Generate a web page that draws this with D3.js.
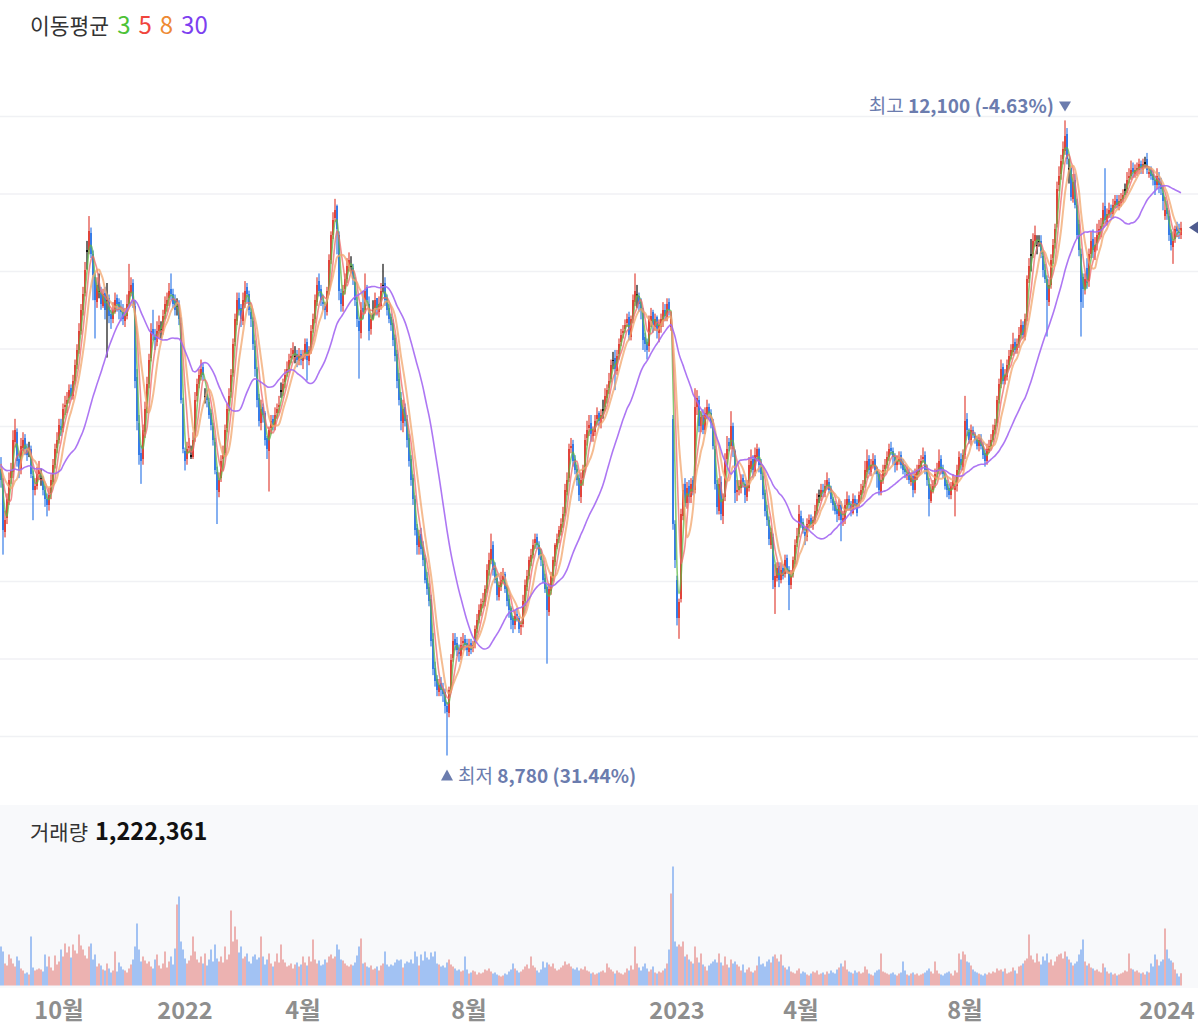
<!DOCTYPE html>
<html>
<head>
<meta charset="utf-8">
<script src="https://cdn.jsdelivr.net/npm/d3@7"></script>
<style>
  body { margin: 0; background: #fff; }
  svg { display: block; }
  text { font-family: "Noto Sans CJK KR", "Noto Sans", sans-serif; }
</style>
</head>
<body>
<svg id="chart" width="1198" height="1034"></svg>
<script>
// trading calendar (KRX)
const firstDay = "2021-08-18"
const lastDay = "2024-01-11"
const holidays = [
  "2021-09-20","2021-09-21","2021-09-22","2021-10-04","2021-10-11","2021-12-31",
  "2022-01-31","2022-02-01","2022-02-02","2022-03-01","2022-03-09","2022-05-05","2022-06-01",
  "2022-06-06","2022-08-15","2022-09-09","2022-09-12","2022-10-03","2022-10-10","2022-12-30",
  "2023-01-23","2023-01-24","2023-03-01","2023-05-01","2023-05-05","2023-05-29","2023-06-06",
  "2023-08-15","2023-09-28","2023-09-29","2023-10-02","2023-10-03","2023-10-09","2023-12-25",
  "2023-12-29","2024-01-01"
]
const tickDays = ["2021-10-01","2022-01-03","2022-04-01","2022-08-01","2023-01-02","2023-04-03","2023-08-01","2024-01-02"]

const maPeriods = [3, 5, 8, 30]
const maLegendColors = ["#4dc236", "#f0453d", "#ee8a33", "#7d3ff0"]
const maLineColors = ["#5fb845", "#ef6a6a", "#f2a66c", "#a468f2"]

// closes before the visible window, only used to warm up the averages
const priorCloses = [10350,10300,10250,10200,10260,10310,10380,10420,10360,10300,10240,10190,10230,10290,10350,
  10400,10330,10270,10220,10260,10310,10340,10290,10240,10280,10330,10360,10320,10290]

const opens = [
10280,10200,9950,10020,10110,10230,10260,10420,10470,10330,
10280,10390,10440,10390,10380,10380,10240,10170,10190,10250,
10230,10220,10170,10120,10090,10150,10210,10300,10390,10430,
10500,10490,10600,10620,10650,10700,10660,10740,10820,10900,
11000,11110,11200,11420,11420,11510,11400,11280,11150,11210,
11200,11130,11200,11160,11170,11090,11060,11100,11170,11150,
11120,11110,11050,11080,11140,11200,11250,11130,10760,10520,
10360,10330,10470,10590,10720,10860,11010,10970,10940,11000,
11010,11000,11090,11130,11170,11220,11190,11160,11130,11140,
11040,10620,10370,10330,10390,10350,10340,10440,10660,10720,
10760,10810,10660,10670,10630,10570,10500,10420,10260,10160,
10230,10330,10360,10490,10600,10680,10780,10940,11050,11170,
11120,11050,11150,11230,11190,11100,11050,10920,10800,10650,
10520,10600,10570,10440,10370,10490,10540,10500,10570,10600,
10690,10680,10730,10780,10800,10860,10880,10870,10880,10840,
10880,10840,10870,10940,10840,10900,11010,11060,11150,11260,
11220,11150,11130,11100,11210,11370,11500,11590,11650,11500,
11200,11130,11220,11270,11330,11340,11330,11260,11150,11050,
10990,11120,11110,11230,11140,11010,11110,11120,11170,11100,
11130,11240,11250,11170,11120,11070,11040,10960,10880,10750,
10650,10520,10600,10540,10440,10330,10230,10120,9970,9870,
9940,9870,9810,9710,9660,9600,9390,9240,9180,9110,
9160,9130,9110,9040,9000,9120,9290,9390,9370,9320,
9300,9370,9390,9370,9320,9370,9340,9370,9440,9490,
9530,9580,9580,9650,9750,9800,9880,9760,9710,9610,
9660,9700,9730,9660,9600,9550,9500,9460,9520,9500,
9450,9470,9590,9660,9720,9790,9830,9890,9920,9880,
9840,9780,9710,9660,9530,9640,9710,9790,9870,9920,
9950,10000,10050,10160,10230,10390,10410,10330,10280,10230,
10130,10230,10280,10440,10490,10520,10450,10470,10540,10570,
10520,10590,10600,10650,10700,10750,10850,10860,10790,10880,
10940,10990,11010,11040,11070,10970,11060,11150,11190,11180,
11150,11100,10970,10940,10920,11050,11100,11020,11070,10990,
11020,11050,11110,11070,11150,11020,10540,9990,9700,9500,
9600,10030,10200,10100,10190,10130,10220,10170,10600,10640,
10500,10560,10480,10560,10600,10570,10520,10380,10200,10060,
10210,10030,10130,10330,10420,10400,10500,10370,10160,10170,
10180,10230,10200,10130,10180,10280,10330,10260,10340,10380,
10310,10240,10150,10060,10010,9880,9920,9660,9710,9770,
9700,9760,9730,9810,9750,9670,9730,9800,9890,9940,
10030,10000,9950,9920,9990,10020,9980,10010,10060,10140,
10130,10170,10150,10190,10210,10170,10120,10100,10070,10030,
10090,10000,10010,10090,10120,10090,10050,10120,10100,10100,
10140,10170,10200,10260,10330,10260,10300,10330,10270,10250,
10160,10220,10280,10300,10340,10390,10370,10340,10300,10320,
10350,10310,10280,10240,10260,10210,10240,10170,10240,10260,
10290,10330,10350,10280,10200,10110,10170,10200,10260,10270,
10330,10280,10240,10200,10180,10140,10190,10170,10190,10270,
10330,10290,10350,10540,10470,10430,10480,10450,10430,10400,
10440,10400,10360,10320,10370,10400,10430,10480,10520,10640,
10720,10810,10740,10760,10820,10870,10890,10940,10900,10930,
10980,11030,10970,11070,11270,11400,11400,11470,11450,11470,
11470,11390,11320,11270,11150,11240,11380,11460,11560,11760,
11820,11900,11940,12030,11850,11850,11690,11790,11660,11560,
11400,11280,11220,11330,11260,11400,11480,11410,11460,11500,
11520,11560,11650,11570,11610,11640,11610,11660,11690,11650,
11670,11690,11740,11740,11800,11810,11850,11820,11840,11840,
11870,11840,11880,11900,11820,11840,11820,11790,11760,11800,
11770,11720,11600,11640,11600,11510,11440,11480,11550,11540,
11500]

const highs = [
10340,10230,10060,10150,10260,10310,10480,10540,10490,10360,
10440,10470,10460,10410,10420,10400,10270,10230,10290,10320,
10280,10240,10190,10150,10180,10250,10330,10410,10470,10540,
10540,10620,10660,10680,10720,10720,10770,10850,10930,11040,
11140,11230,11360,11470,11600,11540,11420,11300,11280,11300,
11230,11220,11230,11250,11190,11110,11150,11200,11190,11170,
11160,11140,11120,11190,11350,11280,11270,11160,10800,10560,
10400,10510,10630,10760,10880,11040,11110,11010,11050,11080,
11050,11110,11180,11200,11250,11300,11220,11190,11170,11160,
11070,10650,10390,10420,10440,10400,10470,10680,10750,10800,
10850,10830,10700,10690,10650,10590,10520,10440,10290,10260,
10350,10400,10510,10620,10700,10800,10960,11090,11200,11200,
11140,11200,11260,11250,11210,11120,11070,10950,10810,10670,
10640,10620,10580,10450,10500,10560,10560,10600,10620,10660,
10730,10750,10800,10840,10880,10910,10940,10920,10900,10910,
10900,10900,10960,10960,10920,11030,11090,11190,11280,11300,
11240,11190,11150,11230,11400,11520,11620,11690,11660,11520,
11220,11240,11300,11380,11410,11390,11350,11280,11180,11070,
11150,11210,11300,11240,11180,11090,11160,11200,11170,11180,
11250,11350,11280,11190,11140,11090,11060,10980,10900,10780,
10680,10640,10620,10560,10460,10350,10250,10140,9990,9960,
9970,9900,9830,9740,9680,9620,9420,9270,9200,9180,
9190,9160,9130,9060,9140,9310,9420,9420,9400,9360,
9400,9420,9410,9390,9390,9390,9380,9460,9520,9570,
9600,9630,9670,9780,9840,9940,9900,9790,9730,9690,
9740,9760,9740,9670,9620,9560,9510,9540,9550,9510,
9480,9620,9700,9750,9820,9860,9910,9940,9940,9900,
9860,9800,9730,9670,9680,9740,9820,9890,9940,9980,
10020,10080,10200,10260,10410,10440,10430,10350,10300,10250,
10260,10300,10460,10530,10560,10560,10500,10560,10600,10580,
10590,10640,10700,10720,10780,10850,10890,10900,10900,10960,
11010,11030,11060,11090,11100,11080,11190,11300,11240,11200,
11170,11120,10990,10960,11080,11120,11110,11090,11080,11060,
11090,11150,11140,11170,11170,11100,10560,10010,9720,9600,
10070,10200,10230,10210,10220,10230,10240,10700,10690,10660,
10580,10590,10600,10640,10620,10590,10540,10400,10220,10230,
10240,10150,10360,10450,10440,10580,10520,10380,10220,10220,
10250,10250,10220,10220,10340,10380,10350,10390,10410,10390,
10330,10260,10170,10090,10030,9970,9940,9780,9790,9790,
9790,9780,9830,9830,9770,9750,9820,9910,9970,10090,
10060,10020,9970,10020,10040,10040,10030,10090,10150,10170,
10200,10200,10220,10260,10230,10190,10130,10110,10090,10120,
10110,10060,10120,10160,10140,10110,10150,10140,10120,10160,
10200,10220,10320,10380,10350,10330,10360,10350,10290,10260,
10250,10300,10330,10370,10410,10420,10390,10360,10350,10370,
10370,10330,10300,10290,10280,10260,10270,10280,10300,10330,
10350,10390,10370,10300,10230,10200,10220,10280,10310,10380,
10350,10300,10260,10220,10200,10210,10250,10240,10300,10370,
10360,10380,10660,10570,10490,10510,10500,10470,10450,10460,
10460,10420,10380,10410,10430,10460,10510,10540,10660,10750,
10850,10830,10800,10850,10900,10930,10990,10960,10960,11020,
11060,11050,11090,11290,11380,11480,11510,11550,11500,11500,
11500,11420,11350,11290,11270,11400,11480,11560,11780,11860,
11920,11990,12100,12060,11900,11860,11820,11820,11690,11580,
11430,11300,11300,11380,11430,11520,11530,11490,11560,11580,
11590,11670,11850,11640,11670,11660,11690,11710,11710,11710,
11720,11740,11770,11830,11850,11890,11880,11870,11880,11900,
11890,11900,11910,11930,11860,11860,11840,11810,11850,11830,
11800,11760,11700,11680,11630,11530,11520,11550,11570,11560,
11570]

const lows = [
10180,9830,9920,9990,10090,10200,10230,10390,10290,10230,
10250,10370,10350,10320,10340,10230,10010,10140,10170,10220,
10190,10140,10080,10030,10060,10120,10190,10280,10360,10410,
10450,10470,10560,10570,10620,10640,10640,10720,10800,10880,
10980,11080,11180,11320,11400,11380,11160,10960,11120,11170,
11110,11120,11060,10860,11040,11010,11040,11090,11100,11060,
11050,11030,11020,11060,11120,11180,11120,10700,10480,10300,
10200,10300,10440,10570,10700,10840,10950,10900,10920,10960,
10960,10980,11060,11100,11130,11160,11120,11080,11080,11030,
10620,10360,10270,10300,10360,10330,10330,10420,10630,10700,
10740,10740,10620,10600,10540,10480,10400,10250,9990,10130,
10210,10270,10340,10470,10580,10650,10760,10920,11030,11080,
11020,11030,11120,11150,11080,11020,10900,10760,10600,10500,
10480,10520,10400,10330,10160,10460,10480,10480,10540,10570,
10650,10660,10700,10760,10780,10830,10850,10830,10810,10820,
10820,10800,10850,10740,10820,10880,10990,11040,11130,11180,
11130,11110,11060,11080,11190,11350,11480,11570,11400,11160,
11100,11100,11190,11250,11310,11300,11240,11130,11020,10750,
10960,11060,11090,11130,10950,10980,11060,11080,11080,11070,
11110,11200,11130,11080,11040,11000,10920,10840,10700,10610,
10480,10470,10500,10390,10290,10190,10090,9930,9830,9830,
9830,9770,9680,9620,9560,9350,9200,9140,9090,9090,
9090,9060,9000,8780,8980,9110,9270,9330,9300,9270,
9280,9330,9330,9300,9300,9310,9320,9340,9420,9470,
9510,9550,9560,9630,9720,9780,9720,9680,9590,9590,
9640,9680,9630,9560,9500,9440,9420,9440,9480,9420,
9410,9450,9560,9640,9700,9770,9810,9860,9860,9810,
9770,9680,9630,9260,9510,9620,9690,9770,9860,9890,
9930,9970,10030,10140,10210,10360,10290,10250,10190,10110,
10100,10190,10260,10400,10450,10420,10420,10450,10510,10500,
10490,10540,10580,10620,10670,10730,10800,10690,10770,10850,
10920,10960,10990,11020,10950,10950,11040,11130,11120,11100,
11060,10900,10890,10850,10890,11020,10990,11000,10960,10940,
10990,11020,11050,11050,11080,11000,9960,9760,9460,9390,
9580,10010,10080,10070,10100,10100,10140,10150,10560,10470,
10470,10460,10460,10540,10540,10490,10380,10170,10040,10040,
10010,9990,10110,10300,10370,10380,10340,10100,10110,10140,
10150,10180,10100,10110,10160,10260,10230,10240,10320,10260,
10220,10120,10030,9980,9880,9860,9650,9520,9690,9660,
9680,9700,9710,9730,9540,9650,9710,9780,9870,9920,
9970,9940,9880,9900,9970,9970,9960,9990,10040,10100,
10110,10130,10130,10170,10150,10100,10060,10040,10000,10010,
9900,9980,9990,10060,10060,10030,10040,10070,10030,10080,
10120,10150,10180,10230,10250,10240,10280,10250,10180,10140,
10140,10200,10250,10280,10320,10350,10300,10260,10270,10300,
10280,10250,10230,10220,10200,10190,10130,10150,10220,10240,
10270,10310,10250,10190,10030,10100,10150,10180,10230,10250,
10250,10230,10170,10130,10120,10120,10170,10030,10160,10250,
10270,10270,10330,10450,10410,10400,10440,10410,10380,10370,
10380,10330,10290,10300,10360,10380,10420,10460,10500,10620,
10700,10720,10720,10740,10800,10850,10870,10880,10880,10910,
10960,10960,10950,11050,11250,11310,11380,11440,11400,11440,
11380,11280,11250,10970,11130,11220,11350,11430,11540,11730,
11790,11870,11920,11870,11770,11680,11670,11640,11480,11390,
10970,11120,11190,11220,11230,11380,11380,11370,11420,11480,
11490,11540,11560,11550,11590,11590,11590,11640,11640,11630,
11650,11670,11710,11720,11770,11790,11800,11800,11810,11820,
11820,11820,11850,11820,11800,11790,11760,11710,11740,11720,
11710,11630,11580,11580,11470,11420,11350,11460,11490,11480,
11480]

const closes = [
10220,9960,10010,10120,10220,10270,10430,10480,10320,10270,
10400,10430,10380,10350,10380,10250,10170,10190,10250,10270,
10230,10170,10120,10090,10140,10220,10300,10380,10430,10510,
10480,10590,10610,10640,10690,10660,10740,10820,10900,11000,
11110,11190,11320,11420,11520,11400,11290,11160,11240,11210,
11140,11190,11110,11160,11080,11060,11110,11160,11140,11110,
11100,11060,11080,11140,11210,11240,11160,10740,10530,10350,
10320,10480,10590,10720,10850,11000,10980,10950,11000,11030,
11010,11080,11140,11160,11210,11190,11140,11110,11130,11060,
10640,10380,10320,10380,10400,10350,10430,10640,10720,10770,
10800,10770,10660,10640,10560,10510,10430,10270,10170,10220,
10320,10350,10480,10590,10660,10770,10930,11060,11160,11110,
11060,11160,11210,11190,11110,11060,10930,10800,10640,10530,
10590,10560,10430,10380,10480,10530,10510,10560,10590,10610,
10690,10720,10770,10800,10850,10870,10900,10870,10850,10870,
10850,10870,10930,10850,10900,11000,11060,11160,11240,11210,
11160,11140,11110,11210,11370,11500,11580,11630,11530,11210,
11140,11210,11270,11340,11370,11340,11270,11160,11060,11000,
11110,11100,11210,11160,11000,11060,11110,11160,11110,11140,
11210,11240,11160,11110,11060,11030,10950,10870,10740,10640,
10530,10590,10530,10430,10320,10220,10120,9960,9880,9930,
9860,9800,9700,9650,9590,9380,9230,9170,9120,9150,
9120,9100,9040,9010,9120,9280,9380,9360,9330,9310,
9360,9380,9360,9330,9360,9330,9360,9440,9490,9540,
9570,9590,9650,9750,9800,9860,9750,9700,9620,9670,
9700,9720,9650,9590,9540,9490,9460,9510,9510,9440,
9460,9590,9670,9720,9800,9830,9880,9910,9880,9830,
9800,9700,9650,9540,9650,9720,9800,9880,9910,9960,
9990,10040,10170,10220,10380,10400,10320,10270,10220,10140,
10220,10270,10430,10480,10510,10460,10480,10530,10560,10530,
10560,10590,10660,10690,10740,10820,10850,10800,10870,10930,
10980,11000,11030,11060,10980,11060,11160,11210,11190,11140,
11110,10950,10930,10900,11060,11080,11030,11060,11000,11030,
11060,11110,11080,11140,11110,11060,9990,9800,9500,9580,
10040,10170,10100,10180,10130,10200,10160,10600,10650,10500,
10550,10480,10570,10600,10560,10520,10400,10200,10080,10200,
10040,10120,10320,10380,10400,10500,10380,10150,10170,10190,
10220,10210,10140,10190,10300,10320,10270,10350,10380,10300,
10250,10140,10060,10010,9910,9950,9700,9720,9760,9700,
9750,9720,9800,9750,9670,9720,9800,9880,9930,10040,
9990,9960,9930,9990,10010,9990,10010,10060,10120,10140,
10170,10160,10190,10220,10170,10120,10090,10060,10040,10090,
10010,10020,10090,10120,10090,10060,10120,10090,10050,10140,
10170,10190,10270,10320,10270,10300,10320,10270,10250,10170,
10220,10270,10300,10340,10380,10370,10340,10300,10320,10340,
10300,10270,10260,10250,10220,10230,10170,10250,10270,10300,
10320,10340,10270,10220,10120,10170,10190,10250,10270,10320,
10270,10250,10190,10170,10140,10190,10220,10190,10270,10340,
10300,10350,10530,10480,10430,10480,10460,10430,10400,10430,
10400,10350,10320,10380,10400,10430,10480,10510,10640,10720,
10800,10740,10770,10820,10870,10900,10930,10900,10930,10980,
11030,10980,11060,11270,11340,11400,11470,11500,11450,11470,
11400,11320,11270,11160,11240,11370,11450,11530,11740,11810,
11890,11950,12020,11900,11850,11700,11780,11660,11500,11420,
11150,11220,11270,11250,11400,11470,11420,11450,11500,11530,
11550,11630,11580,11610,11630,11620,11660,11680,11660,11680,
11690,11710,11740,11790,11810,11840,11830,11840,11850,11870,
11850,11870,11880,11840,11830,11810,11790,11760,11810,11760,
11740,11680,11630,11610,11500,11450,11470,11530,11520,11510,
11540]

// daily volume, thousand shares
const volumesK = [
3900,3400,2200,2000,3100,2700,2200,1900,2900,2500,
1700,1500,1200,1300,1100,4900,1800,1500,1600,1700,
1600,1400,3100,1900,2900,1800,1500,3000,2100,2400,
3600,2900,4200,3300,3900,2800,4100,3500,3200,5100,
4000,3600,3000,2700,3900,4200,2600,3100,1900,2200,
2000,1600,1500,2200,1700,1300,1500,3400,1400,2300,
1900,1600,1500,1300,1700,2100,2600,3900,6200,3600,
2400,2900,2500,2200,2400,1900,1700,2600,3100,2000,
1700,2200,3400,1800,2400,2900,2100,3700,8100,8900,
4400,3600,2700,2200,2500,3000,4900,3400,2600,2300,
2900,2200,3200,2000,2600,3600,2400,4100,2700,2400,
2900,2300,3900,2600,3100,7500,4400,5900,4600,3300,
3900,2700,2900,3200,2400,2200,2900,3100,2600,2800,
4900,2900,2100,2600,3200,2200,1900,2400,3200,2300,
4100,2600,2300,1900,2000,2200,1700,2100,2300,1900,
2100,2900,2300,2000,2900,2400,4600,2600,2200,2500,
2000,2100,2600,2300,2900,3100,2700,2900,4100,3600,
2600,2500,2200,2000,1900,2100,2000,2300,3000,3900,
4700,2200,2300,1900,1800,2000,1600,1700,1900,1500,
2000,2200,3400,2100,1900,2100,2000,2300,2600,2500,
2600,1800,2200,2400,2300,2600,2200,3400,2900,2000,
3100,2500,3400,2800,2600,3300,2900,3400,2200,2100,
1900,2000,1800,2300,2600,2100,1900,1700,1500,1600,
1400,1500,2900,1600,1200,1300,1500,1400,1100,1300,
1200,1300,1600,1500,1700,1400,1200,1300,1100,1000,
900,1000,1200,1100,1400,1600,2200,1700,1500,1300,
1400,1600,1900,2100,1700,2900,2000,1800,1500,1300,
1600,2400,1800,2300,2100,1900,2200,1700,1500,1600,
1800,2000,2400,2100,2200,1900,1700,1600,1800,1500,
1700,1600,1900,1500,1400,1200,1300,1100,1200,1300,
1400,1500,1300,2200,1800,1600,1400,1200,1500,1300,
1200,1100,1300,1700,1500,2000,1600,3900,2200,1800,
1500,1900,2200,1700,1400,1600,1900,1300,1200,1400,
1300,1500,1700,2200,3600,9200,11900,4400,3900,4100,
3900,4400,2900,3100,2600,2400,2200,3900,2800,2300,
3200,2100,1900,1500,2000,2200,2400,2600,2300,3200,
2300,2000,2900,2100,1800,2600,2200,2400,2100,1900,
1500,2100,1300,1600,1800,1400,1300,1500,2000,2900,
2100,2200,1900,2400,2600,2300,2900,3100,2700,2400,
3100,2000,1800,1600,1900,1400,1300,1200,1500,1700,
1200,1400,1300,1100,1000,1200,1400,1300,1500,1100,
1200,1300,1100,1400,1200,1500,1300,1200,1600,1800,
2200,1900,2500,1600,1400,1300,1200,1500,1300,1400,
1200,1300,1900,1600,1200,1100,1000,1300,1500,1600,
3200,1400,1300,1200,1100,1200,1300,1100,1000,1200,
1300,2400,1500,1100,1000,1200,1300,1100,1200,1000,
1100,1200,1300,1500,1700,1400,1200,2400,1500,1200,
1100,1000,1200,1300,1400,1200,1000,1500,1300,3200,
2600,3400,3100,2400,2300,2000,1600,1400,1300,1200,
1100,1000,1200,1100,1300,1200,1400,1300,1700,1500,
1600,1400,1700,1200,1300,1400,1800,1500,1200,1900,
2000,2200,2500,2700,5100,3000,2600,2300,3200,2400,
2100,2900,2500,3200,2300,2600,2000,2400,2900,3100,
3200,2700,3400,2900,2600,2300,2000,2200,2400,3100,
3600,4600,2400,2000,2200,1800,1700,1500,1600,1400,
1300,2200,1800,1400,1200,1300,1100,1200,1000,1100,
1200,1300,1500,1400,3200,1700,1600,1400,1500,1300,
1200,1300,1100,1400,1300,2200,1900,3100,2600,2000,
2400,2600,5700,3600,2700,2500,2300,1600,1200,900,
1222.361]

const svg = d3.select("#chart")

const parseDay = d3.utcParse("%Y-%m-%d")
const fmtDay = d3.utcFormat("%Y-%m-%d")
const closed = new Set(holidays)
const tradingDays = d3.utcDays(parseDay(firstDay), d3.utcDay.offset(parseDay(lastDay), 1))
  .filter(d => d.getUTCDay() !== 0 && d.getUTCDay() !== 6 && !closed.has(fmtDay(d)))
  .map(fmtDay)

const n = closes.length
const candles = closes.map((c, i) => ({ i, o: opens[i], h: highs[i], l: lows[i], c, v: volumesK[i] }))

const x = d3.scaleBand().domain(d3.range(n)).range([0, 1182])
const bw = x.bandwidth()
const cx = i => x(i) + bw / 2

const maxHigh = d3.max(highs), minLow = d3.min(lows)
const y = d3.scaleLinear().domain([minLow, maxHigh]).range([755.5, 120.4])
const yv = d3.scaleLinear().domain([0, d3.max(volumesK)]).range([985.5, 866.5])

const upColor = "#e1443b", downColor = "#367ce8", flatColor = "#111"
const colorOf = d => d.c > d.o ? upColor : d.c < d.o ? downColor : flatColor

// price grid: ten equal bands of the price panel
const grid = d3.scaleLinear().domain([0, 10]).range([39, 814])
svg.append("g").selectAll("line").data(d3.range(1, 10)).join("line")
  .attr("x1", 0).attr("x2", 1198)
  .attr("y1", d => grid(d)).attr("y2", d => grid(d))
  .attr("stroke", "#f0f1f4").attr("stroke-width", 1.5)

svg.append("defs").append("clipPath").attr("id", "plot")
  .append("rect").attr("x", 0).attr("y", 40).attr("width", 1184).attr("height", 760)

const price = svg.append("g").attr("clip-path", "url(#plot)")

price.append("g").selectAll("rect").data(candles).join("rect")
  .attr("x", d => cx(d.i) - 0.6)
  .attr("width", 1.2)
  .attr("y", d => y(d.h))
  .attr("height", d => y(d.l) - y(d.h))
  .attr("fill", colorOf)

price.append("g").attr("shape-rendering", "crispEdges").selectAll("rect").data(candles).join("rect")
  .attr("x", d => x(d.i))
  .attr("width", bw)
  .attr("y", d => y(Math.max(d.o, d.c)))
  .attr("height", d => Math.max(1.5, Math.abs(y(d.o) - y(d.c))))
  .attr("fill", colorOf)

// moving averages
const allCloses = priorCloses.concat(closes)
const off = priorCloses.length
const line = d3.line().x((v, i) => cx(i)).y(v => y(v)).curve(d3.curveMonotoneX)
maPeriods.forEach((p, k) => {
  const ma = closes.map((_, i) => d3.mean(allCloses.slice(i + off - p + 1, i + off + 1)))
  price.append("path").datum(ma)
    .attr("d", line)
    .attr("fill", "none")
    .attr("stroke", maLineColors[k])
    .attr("stroke-width", k === 2 ? 2 : 1.6)
    .attr("stroke-opacity", k === 3 ? 0.9 : 0.75)
})

// legend
const legend = svg.append("text").attr("x", 30).attr("y", 34).attr("font-size", 21.5)
legend.append("tspan").attr("fill", "#333").text("이동평균")
maPeriods.forEach((p, k) => legend.append("tspan").attr("dx", 8).attr("font-size", 24)
  .attr("fill", maLegendColors[k]).text(p))

// high / low annotations
const last = closes[n - 1]
const hiIdx = highs.indexOf(maxHigh), loIdx = lows.indexOf(minLow)
const pct = v => ((last - v) / v * 100).toFixed(2) + "%"
const annColor = "#6b7cae"

const hx = cx(hiIdx), hy = y(maxHigh)
svg.append("path")
  .attr("d", `M${hx - 6},${hy - 19}L${hx + 6},${hy - 19}L${hx},${hy - 9}Z`)
  .attr("fill", annColor)
const hiText = svg.append("text").attr("x", hx - 11).attr("y", hy - 7).attr("text-anchor", "end")
  .attr("font-size", 19).attr("fill", annColor)
hiText.append("tspan").text("최고 ")
hiText.append("tspan").attr("font-weight", 700).text(d3.format(",")(maxHigh) + " (" + pct(maxHigh) + ")")

const lx = cx(loIdx), ly = y(minLow)
svg.append("path")
  .attr("d", `M${lx - 6},${ly + 25}L${lx + 6},${ly + 25}L${lx},${ly + 14}Z`)
  .attr("fill", annColor)
const loText = svg.append("text").attr("x", lx + 11).attr("y", ly + 27)
  .attr("font-size", 19).attr("fill", annColor)
loText.append("tspan").text("최저 ")
loText.append("tspan").attr("font-weight", 700).text(d3.format(",")(minLow) + " (" + pct(minLow) + ")")

// current price marker
const py = y(last)
svg.append("path").attr("d", `M1189,${py}L1198,${py - 6}L1198,${py + 6}Z`).attr("fill", "#4f5c8f")

// volume panel
svg.append("rect").attr("x", 0).attr("y", 805).attr("width", 1198).attr("height", 183).attr("fill", "#f8f9fb")
svg.append("g").selectAll("rect").data(candles).join("rect")
  .attr("x", d => cx(d.i) - bw * 0.4)
  .attr("width", bw * 0.8)
  .attr("y", d => yv(d.v))
  .attr("height", d => yv(0) - yv(d.v))
  .attr("fill", d => d.c >= d.o ? "#e9a19e" : "#8db5f0")

const volText = svg.append("text").attr("x", 30).attr("y", 840).attr("font-size", 21)
volText.append("tspan").attr("fill", "#333").text("거래량")
volText.append("tspan").attr("dx", 7).attr("fill", "#111").attr("font-weight", 700).attr("font-size", 23.5)
  .text(d3.format(",")(Math.round(volumesK[n - 1] * 1000)))

// x axis labels
svg.append("g").selectAll("text").data(tickDays).join("text")
  .attr("x", d => cx(tradingDays.indexOf(d)))
  .attr("y", 1019)
  .attr("text-anchor", "middle")
  .attr("font-size", 23.5)
  .attr("font-weight", 700)
  .attr("fill", "#8e8e8e")
  .text(d => {
    const dt = parseDay(d)
    return dt.getUTCMonth() === 0 ? dt.getUTCFullYear() : (dt.getUTCMonth() + 1) + "월"
  })
</script>
</body>
</html>
